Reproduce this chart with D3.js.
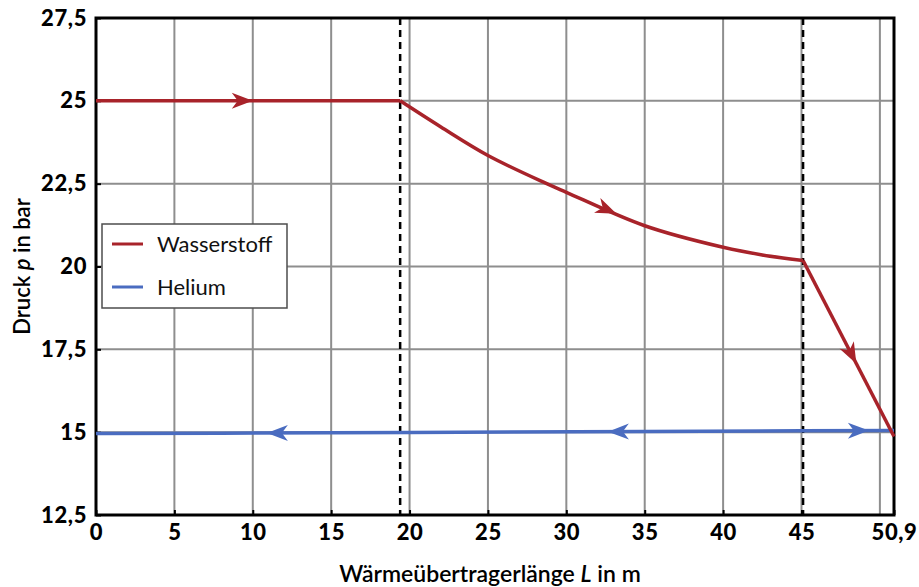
<!DOCTYPE html>
<html>
<head>
<meta charset="utf-8">
<script src="https://cdn.jsdelivr.net/npm/d3@7"></script>
<style>
  html, body { margin: 0; padding: 0; background: #fff; }
  svg { display: block; font-family: Lato, "Open Sans", sans-serif; }
</style>
</head>
<body>
<svg id="chart" width="919" height="587"></svg>
<script>
// Axis ticks
const xTicks = [0, 5, 10, 15, 20, 25, 30, 35, 40, 45, 50.9];
const xGrid = [5, 10, 15, 20, 25, 30, 35, 40, 45, 50];
const yTicks = [12.5, 15, 17.5, 20, 22.5, 25, 27.5];

// Section boundaries (dashed markers), L in m
const sectionBounds = [19.4, 45.1];

// Hydrogen (Wasserstoff) pressure profile: flat inlet, curved middle, steep outlet
const h2FlatL = [0, 19.4];
const h2FlatP = [25, 25];
const h2CurveL = [19.4, 22, 25, 28.75, 30, 35, 40, 42.5, 45.1];
const h2CurveP = [25, 24.21, 23.35, 22.5, 22.24, 21.23, 20.58, 20.35, 20.18];
const h2EndL = [45.1, 50.9];
const h2EndP = [20.18, 14.87];

// Helium pressure profile
const heL = [0, 8, 20, 35, 45, 50.9];
const heP = [14.96, 14.97, 14.99, 15.02, 15.04, 15.05];

// Flow direction arrows: tip position (L) and direction (+1 right, -1 left)
const h2ArrowL = [10, 33.2, 48.5];
const h2ArrowDir = [1, 1, 1];
const heArrowL = [10.9, 32.65, 49.3];
const heArrowDir = [-1, -1, 1];

const legendLabels = ["Wasserstoff", "Helium"];
const colors = { h2: "#a8232a", he: "#4a6cc0" };

const svg = d3.select("#chart");
const x = d3.scaleLinear().domain([0, 50.9]).range([96, 894]);
const y = d3.scaleLinear().domain([12.5, 27.5]).range([515, 18]);

const fmt = v => String(v).replace(".", ",");

// Grid
svg.append("g").selectAll("line").data(xGrid).join("line")
  .attr("x1", d => x(d)).attr("x2", d => x(d))
  .attr("y1", y(27.5)).attr("y2", y(12.5))
  .attr("stroke", "#8e8e8e").attr("stroke-width", 2);
svg.append("g").selectAll("line").data(yTicks.slice(1, -1)).join("line")
  .attr("x1", x(0)).attr("x2", x(50.9))
  .attr("y1", d => y(d)).attr("y2", d => y(d))
  .attr("stroke", "#8e8e8e").attr("stroke-width", 2);

// Axes with inward ticks
const xAxis = svg.append("g").attr("transform", `translate(0,${y(12.5)})`)
  .call(d3.axisBottom(x).tickValues(xTicks).tickFormat(fmt).tickSizeInner(-5).tickSizeOuter(0).tickPadding(9));
const yAxis = svg.append("g").attr("transform", `translate(${x(0)},0)`)
  .call(d3.axisLeft(y).tickValues(yTicks).tickFormat(fmt).tickSizeInner(-5).tickSizeOuter(0).tickPadding(9));
[xAxis, yAxis].forEach(g => {
  g.select(".domain").remove();
  g.selectAll(".tick line").attr("stroke", "#000").attr("stroke-width", 2);
  g.selectAll(".tick text").attr("fill", "#000").attr("font-size", 22).attr("font-weight", 900)
    .attr("letter-spacing", "0.6px").attr("font-family", "Lato, sans-serif");
});
xAxis.selectAll(".tick text").attr("dy", "0.71em");
yAxis.selectAll(".tick text").attr("dy", "0.32em");

// Section boundary markers
svg.append("g").selectAll("line").data(sectionBounds).join("line")
  .attr("x1", d => x(d)).attr("x2", d => x(d))
  .attr("y1", y(27.5)).attr("y2", y(12.5))
  .attr("stroke", "#000").attr("stroke-width", 2.5).attr("stroke-dasharray", "7,5");

// Plot frame
svg.append("rect")
  .attr("x", x(0)).attr("y", y(27.5))
  .attr("width", x(50.9) - x(0)).attr("height", y(12.5) - y(27.5))
  .attr("fill", "none").attr("stroke", "#000").attr("stroke-width", 3);

const zip = (a, b) => a.map((v, i) => [v, b[i]]);
const lin = d3.line().x(d => x(d[0])).y(d => y(d[1]));
const smooth = d3.line().x(d => x(d[0])).y(d => y(d[1])).curve(d3.curveCatmullRom.alpha(0.5));

const h2Pts = [zip(h2FlatL, h2FlatP), zip(h2CurveL, h2CurveP), zip(h2EndL, h2EndP)];
const hePts = zip(heL, heP);

// Helium line
svg.append("path").attr("d", lin(hePts))
  .attr("fill", "none").attr("stroke", colors.he).attr("stroke-width", 3.5);

// Hydrogen line
svg.append("path").attr("d", lin(h2Pts[0])).attr("fill", "none")
  .attr("stroke", colors.h2).attr("stroke-width", 3.5);
svg.append("path").attr("d", smooth(h2Pts[1])).attr("fill", "none")
  .attr("stroke", colors.h2).attr("stroke-width", 3.5).attr("stroke-linejoin", "round");
svg.append("path").attr("d", lin(h2Pts[2])).attr("fill", "none")
  .attr("stroke", colors.h2).attr("stroke-width", 3.5);

// Arrow heads placed on a polyline at position L
const allH2 = h2Pts[0].concat(h2Pts[1].slice(1), h2Pts[2].slice(1));
function placeOn(points, L) {
  let i = points.findIndex((p, k) => k < points.length - 1 && L >= p[0] && L <= points[k + 1][0]);
  if (i < 0) i = points.length - 2;
  const a = points[i], b = points[i + 1];
  const t = (L - a[0]) / (b[0] - a[0]);
  const p = a[1] + t * (b[1] - a[1]);
  const ang = Math.atan2(y(b[1]) - y(a[1]), x(b[0]) - x(a[0])) * 180 / Math.PI;
  return { px: x(L), py: y(p), ang };
}
const arrowPath = "M0,0 L-21,-8 L-15,0 L-21,8 Z";
function drawArrows(points, Ls, dirs, color) {
  svg.append("g").selectAll("path").data(Ls.map((L, i) => ({ ...placeOn(points, L), dir: dirs[i] })))
    .join("path").attr("d", arrowPath).attr("fill", color)
    .attr("transform", d => `translate(${d.px},${d.py}) rotate(${d.ang + (d.dir < 0 ? 180 : 0)})`);
}
drawArrows(allH2, h2ArrowL, h2ArrowDir, colors.h2);
drawArrows(hePts, heArrowL, heArrowDir, colors.he);

// Legend
const lg = svg.append("g").attr("transform", "translate(102,224)");
lg.append("rect").attr("width", 185).attr("height", 84)
  .attr("fill", "#fff").attr("stroke", "#4d4d4d").attr("stroke-width", 1.5);
legendLabels.forEach((lab, i) => {
  const yy = 20 + i * 43;
  lg.append("line").attr("x1", 10).attr("x2", 41).attr("y1", yy).attr("y2", yy)
    .attr("stroke", i === 0 ? colors.h2 : colors.he).attr("stroke-width", 3);
  lg.append("text").attr("x", 55).attr("y", yy).attr("dy", "0.35em")
    .attr("font-size", 22).attr("fill", "#111").text(lab);
});

// Axis titles
const xt = svg.append("text").attr("x", 490).attr("y", 582).attr("text-anchor", "middle")
  .attr("font-size", 23).attr("font-weight", 600).attr("fill", "#000");
xt.append("tspan").text("Wärmeübertragerlänge ");
xt.append("tspan").attr("font-style", "italic").text("L");
xt.append("tspan").text(" in m");

const yt = svg.append("text").attr("transform", `translate(30,${(y(27.5) + y(12.5)) / 2}) rotate(-90)`)
  .attr("text-anchor", "middle").attr("font-size", 22).attr("font-weight", 600).attr("fill", "#000");
yt.append("tspan").text("Druck ");
yt.append("tspan").attr("font-style", "italic").text("p");
yt.append("tspan").text(" in bar");
</script>
</body>
</html>
